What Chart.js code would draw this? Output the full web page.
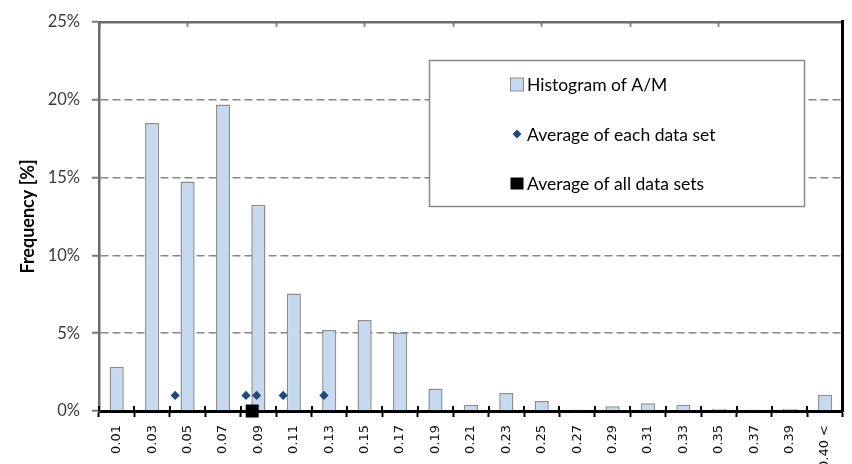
<!DOCTYPE html>
<html>
<head>
<meta charset="utf-8">
<script src="https://cdn.jsdelivr.net/npm/chart.js@4/dist/chart.umd.min.js"></script>
<style>
  html, body { margin: 0; padding: 0; background: #ffffff; }
  #wrap { width: 852px; height: 464px; }
</style>
</head>
<body>
<div id="wrap"><canvas id="c" width="852" height="464"></canvas></div>
<script>
// Histogram bins (upper bound of each A/M class) and their frequencies in %
const binLabels = ['0.01', '0.03', '0.05', '0.07', '0.09', '0.11', '0.13', '0.15', '0.17', '0.19',
                   '0.21', '0.23', '0.25', '0.27', '0.29', '0.31', '0.33', '0.35', '0.37', '0.39', '0.40 <'];
const frequency = [2.85, 18.5, 14.75, 19.7, 13.25, 7.55, 5.2, 5.85, 5.05, 1.45,
                   0.4, 1.15, 0.65, 0.1, 0.3, 0.5, 0.4, 0.15, 0.1, 0.15, 1.05];

// Mean A/M of each individual data set (plotted at 1 %)
const setAverageX = [0.043, 0.083, 0.089, 0.104, 0.127];
const setAverageY = [1, 1, 1, 1, 1];

// Mean A/M over all data sets (plotted on the axis)
const allAverageX = [0.0865];
const allAverageY = [0];

// Value range covered by the bins, and y tick spacing
const amRange = [0, 0.42];
const yTicks = [0, 5, 10, 15, 20, 25];

const legendLabels = ['Histogram of A/M', 'Average of each data set', 'Average of all data sets'];

const BAR_FILL = '#c6d9f0';
const BAR_EDGE = '#8e8e8e';
const DIAMOND = '#1f497d';
const GRID = '#868686';
const AXIS_GRAY = '#6b6b6b';

// Ticks of the category axis that also reach into the plot area
const innerTicks = {
  id: 'innerTicks',
  beforeDatasetsDraw(chart) {
    const s = chart.scales.x;
    const n = s.ticks.length;
    const half = (s.getPixelForTick(1) - s.getPixelForTick(0)) / 2;
    const ctx = chart.ctx;
    ctx.save();
    ctx.strokeStyle = '#000';
    ctx.lineWidth = 2;
    ctx.beginPath();
    for (let i = 0; i <= n; i++) {
      const x = Math.round(i < n ? s.getPixelForTick(i) - half : s.getPixelForTick(n - 1) + half);
      ctx.moveTo(x, chart.chartArea.bottom - 5);
      ctx.lineTo(x, chart.chartArea.bottom);
    }
    ctx.stroke();
    ctx.restore();
  }
};

// Boxed legend inside the plot area
const boxLegend = {
  id: 'boxLegend',
  afterDraw(chart, args, opts) {
    const ctx = chart.ctx;
    const ds = chart.data.datasets;
    ctx.save();
    ctx.fillStyle = '#fff';
    ctx.fillRect(opts.x, opts.y, opts.w, opts.h);
    ctx.strokeStyle = '#8a8a8a';
    ctx.lineWidth = 1.5;
    ctx.strokeRect(opts.x, opts.y, opts.w, opts.h);
    ctx.font = opts.font;
    ctx.textBaseline = 'middle';
    ctx.fillStyle = '#000';
    ds.forEach((d, i) => {
      const cy = opts.y + opts.firstRow + i * opts.rowGap;
      const mx = opts.markerX;
      if (d.type === 'bar') {
        ctx.fillStyle = d.backgroundColor;
        ctx.fillRect(mx - 6.5, cy - 6.5, 13, 13);
        ctx.strokeStyle = d.borderColor;
        ctx.lineWidth = 1;
        ctx.strokeRect(mx - 6.5, cy - 6.5, 13, 13);
      } else if (d.pointStyle === 'rectRot') {
        ctx.fillStyle = d.backgroundColor;
        ctx.beginPath();
        ctx.moveTo(mx, cy - 4.5); ctx.lineTo(mx + 4.5, cy);
        ctx.lineTo(mx, cy + 4.5); ctx.lineTo(mx - 4.5, cy);
        ctx.closePath(); ctx.fill();
      } else {
        ctx.fillStyle = d.backgroundColor;
        ctx.fillRect(mx - 6.5, cy - 6, 13, 12);
      }
      ctx.fillStyle = '#000';
      ctx.fillText(d.label, opts.textX, cy + 1);
    });
    ctx.restore();
  }
};

new Chart(document.getElementById('c'), {
  data: {
    labels: binLabels,
    datasets: [
      {
        type: 'bar',
        label: legendLabels[0],
        data: frequency,
        backgroundColor: BAR_FILL,
        borderColor: BAR_EDGE,
        borderWidth: 1.5,
        borderSkipped: 'bottom',
        grouped: false,
        barPercentage: 0.4,
        categoryPercentage: 1,
        xAxisID: 'x',
        yAxisID: 'y',
        order: 3
      },
      {
        type: 'scatter',
        label: legendLabels[1],
        data: setAverageX.map((v, i) => ({ x: v, y: setAverageY[i] })),
        backgroundColor: DIAMOND,
        borderColor: DIAMOND,
        borderWidth: 0,
        pointStyle: 'rectRot',
        pointRadius: 4.6,
        xAxisID: 'x2',
        yAxisID: 'y',
        order: 2
      },
      {
        type: 'scatter',
        label: legendLabels[2],
        data: allAverageX.map((v, i) => ({ x: v, y: allAverageY[i] })),
        backgroundColor: '#000',
        borderColor: '#000',
        borderWidth: 0,
        pointStyle: 'rect',
        pointRadius: 9.2,
        clip: false,
        xAxisID: 'x2',
        yAxisID: 'y',
        order: 1
      }
    ]
  },
  options: {
    responsive: false,
    animation: false,
    devicePixelRatio: 1,
    layout: { padding: 0 },
    plugins: {
      legend: { display: false },
      tooltip: { enabled: false },
      boxLegend: {
        x: 429.5, y: 60.5, w: 375, h: 146,
        markerX: 517, textX: 527, firstRow: 24, rowGap: 49.5,
        font: '17.5px Lato'
      }
    },
    scales: {
      x: {
        type: 'category',
        position: 'bottom',
        offset: true,
        grid: {
          offset: true,
          drawOnChartArea: false,
          drawTicks: true,
          tickLength: 6,
          tickColor: '#000',
          tickWidth: 2
        },
        border: { display: true, color: '#000', width: 3 },
        ticks: {
          minRotation: 90,
          maxRotation: 90,
          autoSkip: false,
          padding: 8,
          color: '#111',
          font: { family: 'DejaVu Sans', size: 13 }
        },
        afterFit(s) { s.height = 53; }
      },
      x2: {
        type: 'linear',
        position: 'top',
        min: amRange[0],
        max: amRange[1],
        grid: {
          drawOnChartArea: false,
          drawTicks: true,
          tickLength: -5,
          tickColor: '#8a8a8a',
          tickWidth: 2
        },
        border: { display: true, color: AXIS_GRAY, width: 2.5 },
        ticks: { display: false, stepSize: 0.05 },
        afterFit(s) { s.height = 16; }
      },
      y: {
        position: 'left',
        min: yTicks[0],
        max: yTicks[yTicks.length - 1],
        afterBuildTicks(s) { s.ticks = yTicks.map(v => ({ value: v })); },
        grid: {
          color: GRID,
          lineWidth: 1.5,
          drawTicks: true,
          tickLength: 7,
          tickColor: '#7a7a7a',
          tickWidth: 2,
          tickBorderDash: []
        },
        border: { display: true, color: AXIS_GRAY, width: 2.5, dash: [8, 4] },
        ticks: {
          padding: 12,
          color: '#3c3c3c',
          font: { family: 'Lato', size: 16.5 },
          callback: v => v + '%'
        },
        title: {
          display: true,
          text: 'Frequency [%]',
          color: '#000',
          font: { family: 'Lato', size: 18, weight: 'bold' },
          padding: { top: 17.5, bottom: 0 }
        },
        afterFit(s) { s.width = 99; }
      },
      yRight: {
        position: 'right',
        min: 0,
        max: 1,
        grid: { drawOnChartArea: false, drawTicks: false },
        border: { display: true, color: '#000', width: 3 },
        ticks: { display: false },
        afterFit(s) { s.width = 5; }
      }
    }
  },
  plugins: [innerTicks, boxLegend]
});
</script>
</body>
</html>
